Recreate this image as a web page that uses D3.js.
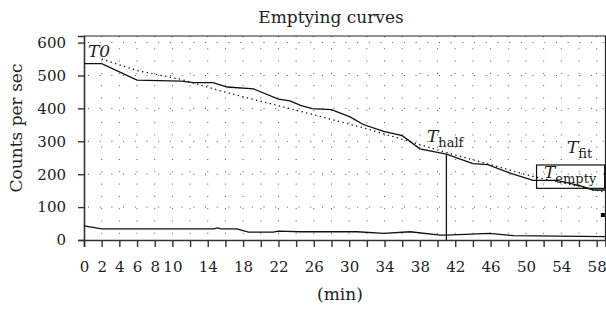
<!DOCTYPE html>
<html>
<head>
<meta charset="utf-8">
<script src="https://cdn.jsdelivr.net/npm/d3@7"></script>
<style>
  body { margin: 0; background: #fff; }
  svg text { font-family: "DejaVu Serif", serif; fill: #222; }
</style>
</head>
<body>
<svg id="chart" width="606" height="310"></svg>
<script>
// emptying curve (solid, upper)
const solidT = [0, 2, 6, 11, 12.4, 14.6, 16.2, 19.2, 22, 23.3, 24.5, 25.8, 28, 30.1, 31.6, 33.9, 36, 38, 41, 44, 45.7, 48.2, 50.8, 53.5, 56.1, 57.6, 59];
const solidV = [536, 536, 486, 483, 478, 478, 465, 459, 428, 423, 409, 399, 396, 374, 351, 330, 317, 277, 261, 232, 229, 203, 181, 181, 165, 152, 152];

// fitted curve (dotted)
const fitT = [2, 6, 11, 16, 24.5, 31.6, 36, 41, 43.3, 50.8, 59];
const fitV = [550, 515, 488, 449, 391, 341, 306, 266, 249, 193, 145];

// background curve (solid, bottom)
const botT = [0, 2, 14.7, 15.1, 15.5, 17.3, 18.6, 21.4, 22, 24.5, 30.9, 33.9, 36.9, 40.3, 41, 45.9, 48.6, 59];
const botV = [43, 34, 34, 37, 34, 34, 24, 24, 27, 25, 25, 20, 25, 15, 15, 20, 13, 10];

const xTickLabels = [0, 2, 4, 6, 8, 10, 14, 18, 22, 26, 30, 34, 38, 42, 46, 50, 54, 58];
const yTicks = [0, 100, 200, 300, 400, 500, 600];

// markers
const tHalf = 41, vHalf = 261;
const emptyBox = { t0: 51.2, t1: 58.9, v0: 157, v1: 228 };
const markerPoint = { t: 58.7, v: 76 };

const svg = d3.select('#chart');
const margin = { left: 84, top: 36, right: 0.5, bottom: 70 };
const width = 606, height = 310;

const x = d3.scaleLinear().domain([0, 59]).range([margin.left, width - margin.right]);
const y = d3.scaleLinear().domain([0, 620]).range([height - margin.bottom, margin.top]);

// dotted grid
const gridT = d3.range(2, 59, 2);
svg.append('g').selectAll('line')
    .data(gridT)
    .enter().append('line')
    .attr('x1', d => x(d)).attr('x2', d => x(d))
    .attr('y1', y(620)).attr('y2', y(0))
    .style('stroke', '#555')
    .style('stroke-width', 1)
    .style('stroke-dasharray', '1,11.3');

svg.append('g').selectAll('line')
    .data(yTicks.slice(1))
    .enter().append('line')
    .attr('x1', x(0) + 4).attr('x2', x(59))
    .attr('y1', d => y(d)).attr('y2', d => y(d))
    .style('stroke', '#555')
    .style('stroke-width', 1)
    .style('stroke-dasharray', '1,10.7');

// frame (top and right)
svg.append('path')
    .attr('d', `M${x(0)},${y(620)} H${x(59)} V${y(0)}`)
    .style('fill', 'none')
    .style('stroke', '#222')
    .style('stroke-width', 1.2);

// axes
const xAxis = d3.axisBottom(x)
    .tickValues(d3.range(0, 59, 2))
    .tickSize(7)
    .tickPadding(14)
    .tickFormat(d => xTickLabels.includes(d) ? d : '');

const yAxis = d3.axisLeft(y)
    .tickValues(yTicks)
    .tickSize(6)
    .tickPadding(12);

const gx = svg.append('g')
    .attr('transform', `translate(0,${y(0)})`)
    .call(xAxis);
const gy = svg.append('g')
    .attr('transform', `translate(${x(0)},0)`)
    .call(yAxis);

[gx, gy].forEach(g => {
    g.select('.domain').style('stroke', '#333').style('stroke-width', 1.6);
    g.selectAll('.tick line').style('stroke', '#333').style('stroke-width', 1.4);
    g.selectAll('.tick text')
        .style('font-family', '"DejaVu Serif", serif')
        .style('font-size', '15px')
        .style('fill', '#222');
});

// curves
const line = d3.line().x(d => x(d[0])).y(d => y(d[1]));

svg.append('path')
    .datum(d3.zip(fitT, fitV))
    .attr('d', line)
    .style('fill', 'none')
    .style('stroke', '#111')
    .style('stroke-width', 1.3)
    .style('stroke-dasharray', '1.3,3.4');

svg.append('path')
    .datum(d3.zip(solidT, solidV))
    .attr('d', line)
    .style('fill', 'none')
    .style('stroke', '#111')
    .style('stroke-width', 1.3);

svg.append('path')
    .datum(d3.zip(botT, botV))
    .attr('d', line)
    .style('fill', 'none')
    .style('stroke', '#111')
    .style('stroke-width', 1.3);

// T half vertical line
svg.append('line')
    .attr('x1', x(tHalf)).attr('x2', x(tHalf))
    .attr('y1', y(vHalf)).attr('y2', y(0))
    .style('stroke', '#111')
    .style('stroke-width', 1.3);

// T empty box
svg.append('rect')
    .attr('x', x(emptyBox.t0))
    .attr('y', y(emptyBox.v1))
    .attr('width', x(emptyBox.t1) - x(emptyBox.t0))
    .attr('height', y(emptyBox.v0) - y(emptyBox.v1))
    .style('fill', 'none')
    .style('stroke', '#111')
    .style('stroke-width', 1.2);

// small marker at right
svg.append('rect')
    .attr('x', x(markerPoint.t) - 2)
    .attr('y', y(markerPoint.v) - 2)
    .attr('width', 4).attr('height', 4)
    .style('fill', '#000');

// annotation labels
function tLabel(px, py, sub) {
    const t = svg.append('text')
        .attr('x', px).attr('y', py)
        .style('font-size', '17px');
    t.append('tspan').text('T').style('font-style', 'italic');
    if (sub === '0') {
        t.append('tspan').text('0').style('font-style', 'italic');
    } else {
        t.append('tspan').text(sub)
            .attr('dy', 5)
            .style('font-size', '13px');
    }
}
tLabel(88, 57, '0');
tLabel(427, 141.5, 'half');
tLabel(567, 153, 'fit');
tLabel(544, 178, 'empty');

// titles
svg.append('text')
    .attr('x', 331).attr('y', 23)
    .attr('text-anchor', 'middle')
    .style('font-size', '17px')
    .text('Emptying curves');

svg.append('text')
    .attr('x', 340).attr('y', 300)
    .attr('text-anchor', 'middle')
    .style('font-size', '17px')
    .text('(min)');

svg.append('text')
    .attr('transform', 'translate(22,128) rotate(-90)')
    .attr('text-anchor', 'middle')
    .style('font-size', '17px')
    .text('Counts per sec');
</script>
</body>
</html>
